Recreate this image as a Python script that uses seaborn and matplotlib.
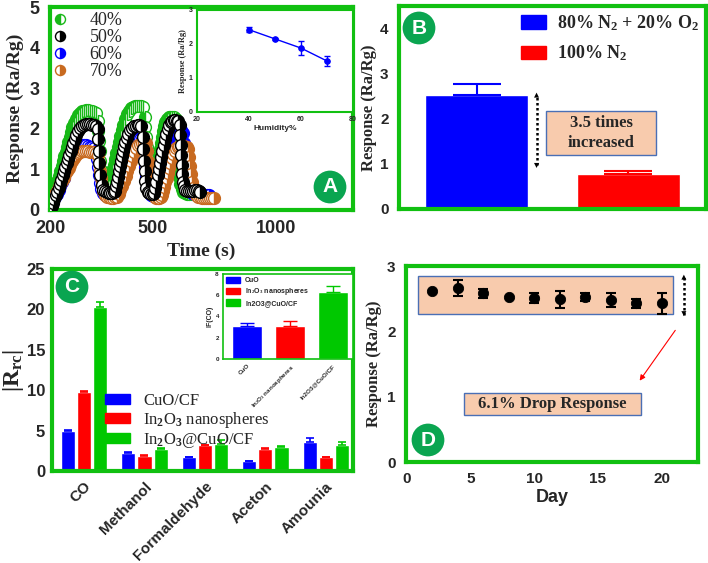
import numpy as np
import pandas as pd
import matplotlib
matplotlib.use("Agg")
import matplotlib.pyplot as plt
import seaborn as sns
from matplotlib.patches import Rectangle, Patch

# ---- panel A: response vs time at four humidities ----
t40 = [203,209,214,218,222,226,230,234,238,242,246,250,254,258,262,266,270,275,281,287,293,299,305,311,317,323,329,335,
       340,342,344,346,348,350,353,357,361,366,
       371,375,379,383,387,391,395,399,403,407,411,415,420,425,431,437,443,449,455,461,467,473,
       478,480,482,484,486,488,490,493,497,502,
       506,510,514,518,522,526,530,534,538,543,548,554,560,567,574,581,588,595,
       599,601,603,605,607,610,614,619,625,632,640,650,660,670,680,690]
r40 = [0.45,0.45,0.5,0.6,0.72,0.84,0.96,1.08,1.2,1.32,1.44,1.56,1.68,1.8,1.92,2.04,2.15,2.25,2.33,2.39,2.43,2.45,2.46,2.46,2.45,2.44,2.42,2.38,
       2.2,1.95,1.7,1.45,1.2,0.98,0.8,0.66,0.57,0.52,
       0.58,0.7,0.84,0.98,1.12,1.26,1.4,1.54,1.68,1.82,1.96,2.1,2.24,2.36,2.45,2.51,2.54,2.56,2.57,2.57,2.56,2.53,
       2.3,2.05,1.8,1.55,1.3,1.05,0.85,0.7,0.6,0.55,
       0.62,0.75,0.9,1.05,1.2,1.35,1.5,1.65,1.8,1.95,2.07,2.17,2.24,2.28,2.3,2.3,2.28,2.25,
       2.05,1.8,1.55,1.3,1.05,0.82,0.65,0.52,0.45,0.42,0.4,0.4,0.4,0.4,0.4,0.38]

t50 = [206,209,213,217,221,225,229,233,237,241,245,249,253,257,261,265,269,273,277,282,288,
       294,300,306,312,318,324,330,336,
       340,341,343,345,348,352,357,
       362,367,372,377,382,387,391,
       394,397,400,403,406,409,412,415,418,421,425,429,434,440,446,452,458,463,468,
       472,474,476,478,480,483,487,
       492,497,502,508,
       512,517,522,527,532,537,542,547,552,557,563,569,575,581,587,593,599,605,611,
       614,616,618,620,622,625,629,634,640,648,656,664,672,680,688,694]
r50 = [0.10,0.18,0.27,0.36,0.45,0.55,0.65,0.75,0.85,0.95,1.05,1.15,1.25,1.35,1.45,1.55,1.65,1.75,1.85,1.95,2.03,
       2.08,2.1,2.12,2.12,2.11,2.1,2.1,2.08,
       2.0,1.75,1.45,1.15,0.85,0.62,0.5,
       0.47,0.44,0.42,0.42,0.42,0.44,0.48,
       0.58,0.7,0.82,0.95,1.08,1.2,1.32,1.45,1.57,1.68,1.78,1.88,1.96,2.02,2.06,2.08,2.1,2.1,2.08,
       1.8,1.5,1.2,0.95,0.72,0.55,0.45,
       0.42,0.4,0.4,0.42,
       0.55,0.7,0.85,1.0,1.15,1.3,1.45,1.6,1.75,1.88,2.0,2.1,2.17,2.2,2.22,2.22,2.2,2.18,2.1,
       1.85,1.6,1.35,1.1,0.88,0.7,0.58,0.5,0.47,0.46,0.47,0.48,0.5,0.5,0.48,0.45]

t60 = [204,210,215,220,225,230,235,240,245,250,255,260,265,270,276,282,288,294,300,306,312,318,324,330,336,
       339,341,343,346,350,355,361,367,373,379,385,
       390,395,400,405,410,415,420,425,430,435,440,446,452,458,464,470,
       474,476,478,481,485,490,496,502,508,514,
       519,524,529,534,539,544,549,554,559,564,570,576,582,588,594,600,606,612,618,624,
       628,631,634,637,641,646,652,660,670,680,690,700,710,720,730]
r60 = [0.2,0.25,0.32,0.4,0.5,0.6,0.7,0.8,0.9,1.0,1.1,1.2,1.3,1.4,1.48,1.55,1.58,1.6,1.6,1.6,1.58,1.56,1.55,1.52,1.45,
       1.25,1.05,0.85,0.67,0.52,0.42,0.37,0.35,0.34,0.34,0.36,
       0.42,0.52,0.64,0.76,0.88,1.0,1.12,1.24,1.36,1.48,1.58,1.66,1.72,1.75,1.76,1.74,
       1.55,1.3,1.05,0.82,0.62,0.47,0.38,0.35,0.34,0.36,
       0.45,0.58,0.72,0.86,1.0,1.14,1.28,1.42,1.56,1.68,1.8,1.9,1.97,2.02,2.04,2.05,2.04,2.02,1.98,1.9,
       1.65,1.4,1.15,0.92,0.72,0.56,0.46,0.41,0.39,0.38,0.38,0.38,0.37,0.37,0.36]

t70 = [200,205,210,215,220,225,230,235,240,245,250,255,260,265,270,276,282,288,294,300,306,312,318,324,330,336,342,
       345,347,349,352,356,361,367,373,379,385,391,397,
       402,407,412,417,422,427,432,437,442,447,453,459,465,471,477,483,
       486,488,490,492,495,499,504,510,516,522,528,534,
       539,544,549,554,559,564,569,574,579,585,591,597,603,609,615,621,627,633,639,645,
       649,652,655,659,664,670,677,685,693,701,709,717,725,733,741,748]
r70 = [0.32,0.33,0.35,0.4,0.48,0.56,0.64,0.72,0.8,0.88,0.96,1.04,1.12,1.2,1.28,1.35,1.4,1.43,1.45,1.46,1.46,1.45,1.44,1.43,1.42,1.4,1.35,
       1.15,0.95,0.78,0.62,0.48,0.38,0.33,0.31,0.3,0.3,0.31,0.33,
       0.4,0.5,0.6,0.72,0.84,0.96,1.08,1.2,1.32,1.42,1.52,1.59,1.63,1.65,1.66,1.64,
       1.45,1.2,0.98,0.78,0.6,0.45,0.36,0.31,0.3,0.3,0.3,0.32,
       0.38,0.46,0.56,0.68,0.8,0.92,1.04,1.16,1.28,1.38,1.46,1.52,1.56,1.58,1.58,1.58,1.57,1.56,1.55,1.5,
       1.3,1.08,0.88,0.7,0.55,0.44,0.37,0.33,0.31,0.3,0.3,0.3,0.3,0.3,0.3,0.3]

# inset A
humidity = [40, 50, 60, 70]
hum_resp = [2.42, 2.15, 1.88, 1.5]
hum_err = [0.08, 0.04, 0.2, 0.15]

# ---- panel B ----
b_labels = [r"80% N$_\mathbf{2}$ + 20% O$_\mathbf{2}$", r"100% N$_\mathbf{2}$"]
b_vals = [2.52, 0.78]
b_err = [0.25, 0.07]

# ---- panel C ----
gases = ["CO", "Methanol", "Formaldehyde", "Aceton", "Amounia"]
materials = ["CuO/CF", r"In$_2$O$_3$ nanospheres", r"In$_2$O$_3$@CuO/CF"]
cuo = [5.0, 2.27, 1.73, 1.24, 3.59]
cuo_err = [0.1, 0.05, 0.05, 0.04, 0.5]
in2o3 = [9.75, 1.9, 3.2, 2.75, 1.69]
in2o3_err = [0.12, 0.05, 0.06, 0.08, 0.05]
comp = [20.3, 2.76, 3.34, 3.0, 3.26]
comp_err = [0.65, 0.06, 0.45, 0.05, 0.33]

# inset C
if_labels = ["CuO", r"In$_2$O$_3$ nanospheres", "In2O3@CuO/CF"]
if_vals = [3.12, 3.12, 6.3]
if_err = [0.25, 0.48, 0.6]

# ---- panel D ----
days = [2, 4, 6, 8, 10, 12, 14, 16, 18, 20]
d_resp = [2.61, 2.66, 2.58, 2.53, 2.51, 2.49, 2.52, 2.48, 2.43, 2.43]
d_err = [0, 0.12, 0.07, 0, 0.07, 0.13, 0.06, 0.1, 0.07, 0.16]

G = "#11C011"
BADGE = "#0AA550"
BLUE, RED, GREEN = "#0000FF", "#FF0000", "#00C800"
ORANGE = "#C86A20"
PEACH, BOXEDGE = "#F8CBAD", "#4A6FB5"
SERIF = "Liberation Serif"

sns.set_style("white")
plt.rcParams["font.family"] = ["Liberation Sans", "DejaVu Sans"]
plt.rcParams["font.weight"] = "bold"
plt.rcParams["axes.labelweight"] = "bold"
plt.rcParams["mathtext.fontset"] = "custom"
plt.rcParams["mathtext.rm"] = SERIF
plt.rcParams["mathtext.bf"] = SERIF + ":bold"
plt.rcParams["mathtext.it"] = SERIF + ":italic"

W, H = 708, 563
fig = plt.figure(figsize=(W / 100, H / 100), dpi=100)


def box(l, t, r, b):
    return [l / W, 1 - b / H, (r - l) / W, (b - t) / H]


def green_frame(ax, lw=3, ticks=True):
    for sp in ax.spines.values():
        sp.set_color(G)
        sp.set_linewidth(lw)
    if ticks:
        ax.tick_params(color=G, width=2.5, length=4, direction="out")


def dotted_arrow(ax, x, y0, y1, hl):
    ax.plot([x, x], [y0 + hl * 0.6, y1 - hl * 0.6], ls=(0, (1, 1)), color="k", lw=1.8)
    for a, b in [(y1, y1 - hl), (y0, y0 + hl)]:
        ax.annotate("", xy=(x, a), xytext=(x, b),
                    arrowprops=dict(arrowstyle="-|>", color="k", lw=0, mutation_scale=9))


def badge(x, y, letter):
    fig.text(x / W, 1 - y / H, letter, ha="center", va="center", color="white",
             fontsize=15, fontweight="bold",
             bbox=dict(boxstyle="circle,pad=0.33", fc=BADGE, ec="none"))


# ================= A =================
axA = fig.add_axes(box(50, 7, 353, 210))
fwd = lambda x: np.where(np.asarray(x, float) <= 500, x, 500 + (np.asarray(x, float) - 500) * 0.729)
inv = lambda y: np.where(np.asarray(y, float) <= 500, y, 500 + (np.asarray(y, float) - 500) / 0.729)
axA.set_xscale("function", functions=(fwd, inv))
series = [("40%", t40, r40, "#18B818", "left", 2),
          ("50%", t50, r50, "black", "right", 5),
          ("60%", t60, r60, BLUE, "right", 3),
          ("70%", t70, r70, ORANGE, "right", 4)]
for lab, t, r, c, fs, z in series:
    axA.plot(t, r, ls="none", marker="o", ms=8.5, fillstyle=fs, mfc=c, mfcalt="white",
             mec=c, mew=1.0, label=lab, zorder=z)
axA.set_xlim(200, 1310)
axA.set_ylim(0, 5)
axA.set_xticks([200, 500, 1000])
axA.set_yticks(range(6))
axA.tick_params(labelsize=13)
axA.set_xlabel("Time (s)", family=SERIF, fontsize=14, labelpad=4)
axA.set_ylabel("Response (Ra/Rg)", family=SERIF, fontsize=14, labelpad=4)
green_frame(axA)
axA.legend(loc="upper left", frameon=False, prop=dict(family=SERIF, size=13, weight="normal"),
           handletextpad=1.4, labelspacing=0.0, borderaxespad=0.25, borderpad=0.05,
           handlelength=0.5, markerscale=0.85)

axAi = fig.add_axes(box(197, 10, 353, 112))
sns.lineplot(x=humidity, y=hum_resp, ax=axAi, color=BLUE, marker="o", markersize=4,
             mec=BLUE, lw=1)
axAi.errorbar(humidity, hum_resp, yerr=hum_err, fmt="none", ecolor=BLUE, capsize=2, lw=1)
axAi.set_xlim(20, 80)
axAi.set_ylim(0, 3)
axAi.set_xticks([20, 40, 60, 80])
axAi.set_yticks([0, 1, 2, 3])
axAi.tick_params(labelsize=5, length=2, width=0.6, pad=1)
axAi.set_xlabel("Humidity%", fontsize=6, labelpad=1)
axAi.set_ylabel("Response (Ra/Rg)", family=SERIF, fontsize=6, labelpad=1)
green_frame(axAi, lw=1.5, ticks=False)
badge(330, 187, "A")

# ================= B =================
axB = fig.add_axes(box(399, 6, 706, 209))
dfB = pd.DataFrame({"cond": b_labels, "resp": b_vals})
sns.barplot(data=dfB, x="cond", y="resp", hue="cond", palette=[BLUE, RED], width=0.68,
            errorbar=None, saturation=1, legend=False, ax=axB)
for i, (v, e, c) in enumerate(zip(b_vals, b_err, [BLUE, RED])):
    axB.errorbar(i, v, yerr=[[0], [e]], fmt="none", ecolor=c, capsize=17, lw=1.5, capthick=1.5)
axB.set_xlim(-0.51, 1.51)
axB.set_ylim(0, 4.5)
axB.set_yticks(range(5))
axB.set_xticks([])
axB.set_xlabel("")
axB.tick_params(labelsize=11)
axB.set_ylabel("Response (Ra/Rg)", family=SERIF, fontsize=12, labelpad=2)
green_frame(axB)
axB.legend([Patch(color=BLUE), Patch(color=RED)], b_labels, loc="upper right", frameon=False,
           prop=dict(family=SERIF, size=13, weight="bold"), handlelength=1.4, handleheight=0.75,
           labelspacing=0.6, borderaxespad=0.1, borderpad=0.3, handletextpad=0.6)
dotted_arrow(axB, 0.395, 0.91, 2.58, 0.12)
axB.add_patch(Rectangle((0.454, 1.2), 0.73, 0.98, fc=PEACH, ec=BOXEDGE, lw=1, zorder=3))
axB.text(0.82, 1.69, "3.5 times\nincreased", family=SERIF, fontsize=12, fontweight="bold",
         ha="center", va="center", linespacing=1.3, zorder=4)
badge(419, 28, "B")

# ================= C =================
axC = fig.add_axes(box(52, 269, 353, 471))
dfC = pd.DataFrame({"gas": gases * 3,
                    "mat": [materials[0]] * 5 + [materials[1]] * 5 + [materials[2]] * 5,
                    "val": cuo + in2o3 + comp})
sns.barplot(data=dfC, x="gas", y="val", hue="mat", palette=[BLUE, RED, GREEN], width=0.8,
            gap=0.12, errorbar=None, saturation=1, legend=False, ax=axC)
for cont, errs, c in zip(axC.containers, [cuo_err, in2o3_err, comp_err], [BLUE, RED, GREEN]):
    xs = [b.get_x() + b.get_width() / 2 for b in cont]
    ys = [b.get_height() for b in cont]
    axC.errorbar(xs, ys, yerr=[[0] * len(errs), errs], fmt="none", ecolor=c, capsize=3,
                 lw=1.2, capthick=1.2)
axC.set_xlim(-0.53, 4.45)
axC.set_ylim(0, 25)
axC.set_yticks(range(0, 26, 5))
axC.set_xlabel("")
axC.tick_params(labelsize=12)
green_frame(axC)
axC.tick_params(axis="y", pad=1)
axC.tick_params(axis="x", labelsize=11, pad=2)
plt.setp(axC.get_xticklabels(), rotation=45, ha="right", rotation_mode="anchor")
axC.set_ylabel(r"$|\mathrm{R_{rc}}|$", fontsize=17)
axC.yaxis.set_label_coords(-0.085, 0.5)
axC.legend([Patch(color=c) for c in [BLUE, RED, GREEN]], materials, loc="upper left",
           bbox_to_anchor=(0.176, 0.386), frameon=False,
           prop=dict(family=SERIF, size=12, weight="normal"), handlelength=1.5,
           handleheight=0.6, labelspacing=0.05, borderaxespad=0, borderpad=0, handletextpad=0.8)

axCi = fig.add_axes(box(223, 274, 353, 359))
sns.barplot(x=if_labels, y=if_vals, hue=if_labels, palette=[BLUE, RED, GREEN], width=0.69,
            errorbar=None, saturation=1, legend=False, ax=axCi)
for i, (v, e, c) in enumerate(zip(if_vals, if_err, [BLUE, RED, GREEN])):
    axCi.errorbar(i, v, yerr=[[0], [e]], fmt="none", ecolor=c, capsize=5, lw=1, capthick=1)
axCi.set_xlim(-0.56, 2.47)
axCi.set_ylim(0, 8)
axCi.set_yticks([0, 2, 4, 6, 8])
axCi.tick_params(labelsize=4.5, length=2, width=0.6, pad=1)
plt.setp(axCi.get_xticklabels(), rotation=45, ha="right", rotation_mode="anchor")
axCi.set_ylabel("IF(CO)", fontsize=5, labelpad=1)
green_frame(axCi, lw=1.2, ticks=False)
axCi.legend([Patch(color=c) for c in [BLUE, RED, GREEN]], if_labels, loc="upper left",
            frameon=False, prop=dict(size=5, weight="bold"), handlelength=2.0,
            handleheight=1.0, labelspacing=0.3, borderaxespad=0.2, borderpad=0.2)
badge(72, 287, "C")

# ================= D =================
axD = fig.add_axes(box(406, 266, 698, 462))
axD.add_patch(Rectangle((0.86, 2.27), 20.04, 0.57, fc=PEACH, ec=BOXEDGE, lw=1, zorder=1))
sns.scatterplot(x=days, y=d_resp, color="black", s=55, edgecolor="black", ax=axD, zorder=3)
keep = [i for i, e in enumerate(d_err) if e > 0]
axD.errorbar([days[i] for i in keep], [d_resp[i] for i in keep], yerr=[d_err[i] for i in keep],
             fmt="none", ecolor="black", capsize=3.5, lw=1.5, capthick=1.5, zorder=3)
dotted_arrow(axD, 21.75, 2.19, 2.91, 0.09)
axD.annotate("", xy=(18.15, 1.21), xytext=(21.2, 2.05),
             arrowprops=dict(arrowstyle="-|>", color="red", lw=0.8, mutation_scale=8))
axD.add_patch(Rectangle((4.48, 0.72), 13.92, 0.34, fc=PEACH, ec=BOXEDGE, lw=1, zorder=1))
axD.text(11.44, 0.885, "6.1% Drop Response", family=SERIF, fontsize=12, fontweight="bold",
         ha="center", va="center", zorder=4)
axD.set_xlim(-0.08, 22.86)
axD.set_ylim(0, 3)
axD.set_xticks(range(0, 21, 5))
axD.set_yticks(range(4))
axD.tick_params(labelsize=11)
axD.set_xlabel("Day", fontsize=13, labelpad=2)
axD.set_ylabel("Response (Ra/Rg)", family=SERIF, fontsize=12, labelpad=4)
green_frame(axD)
badge(428, 440, "D")

fig.savefig("out.png", dpi=100)
